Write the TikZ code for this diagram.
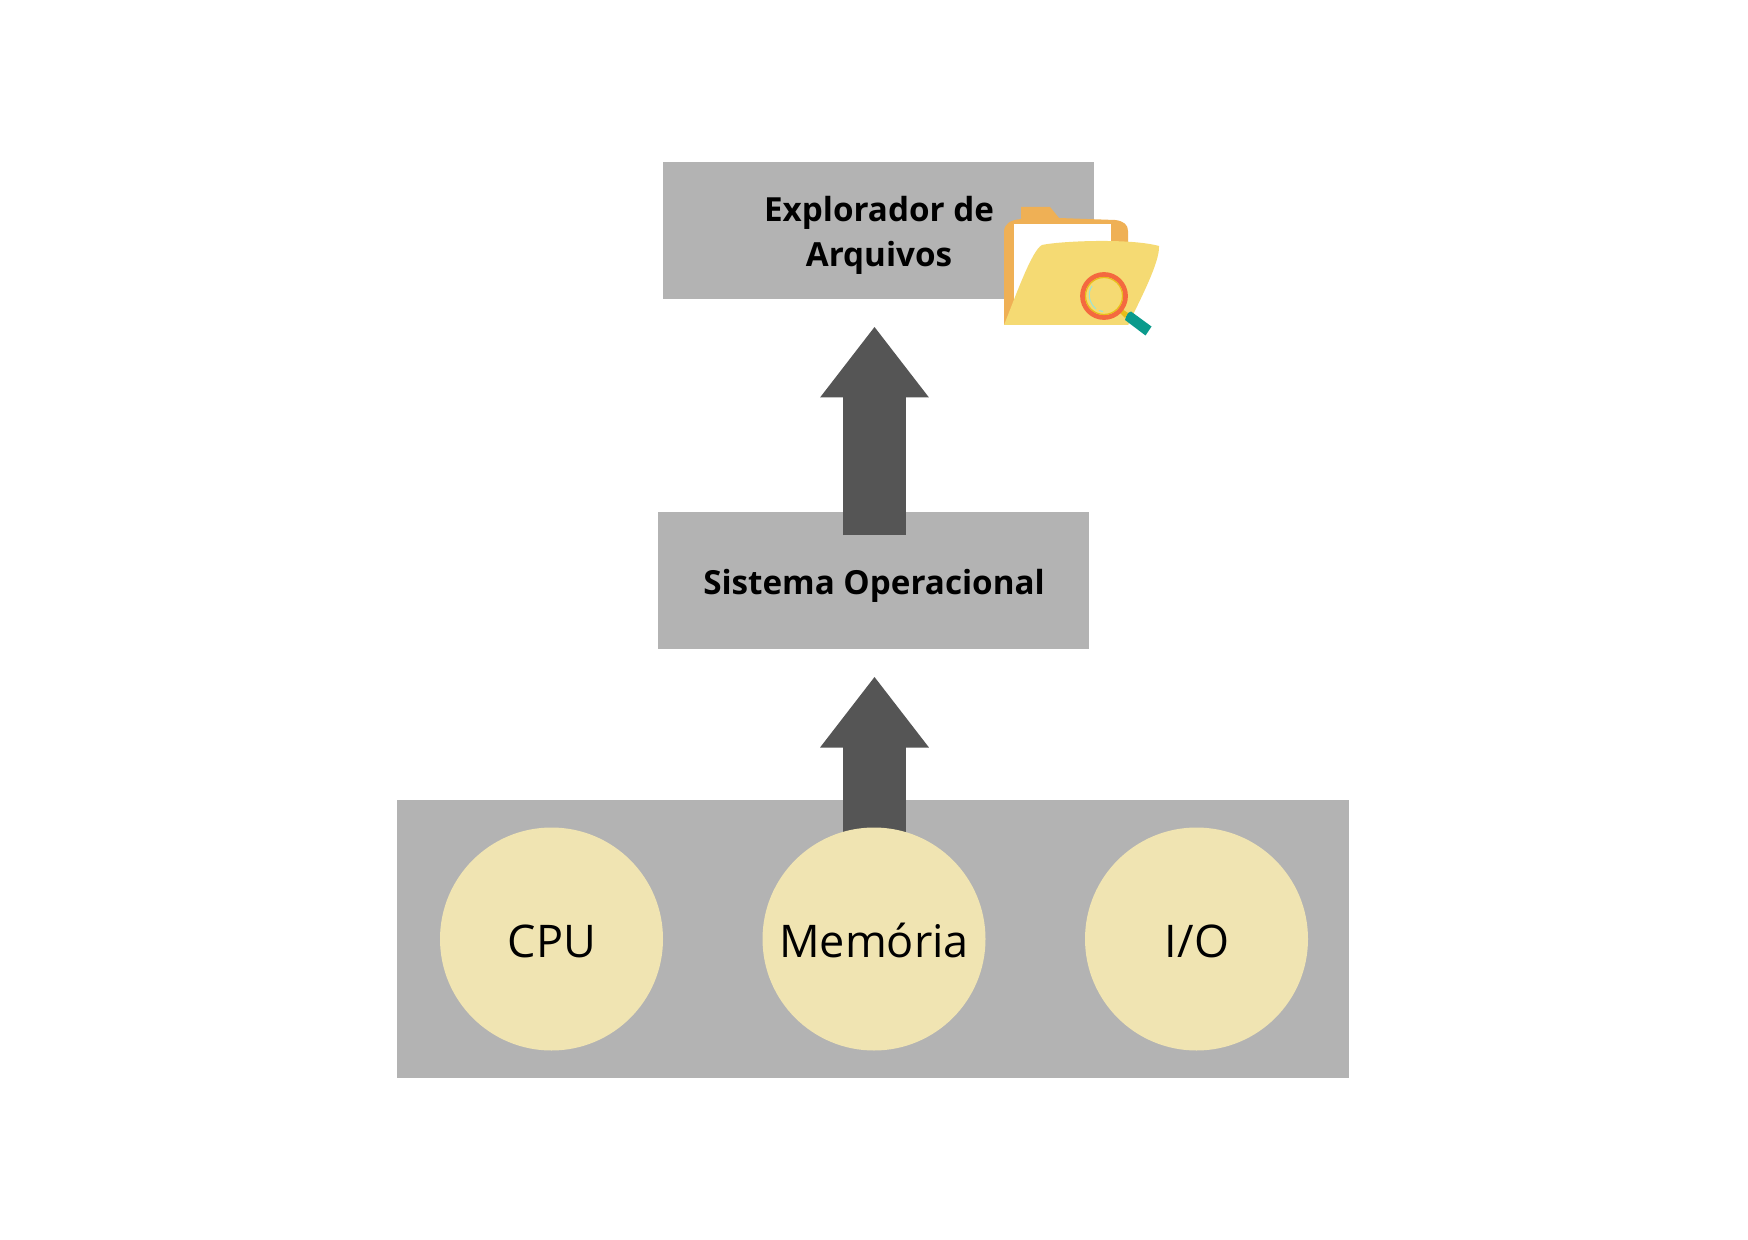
\documentclass[tikz,border=0pt]{standalone}
\usepackage{fontspec}
\usepackage{tikz}
\usetikzlibrary{arrows.meta}
\setmainfont{Open Sans}
\definecolor{boxgray}{HTML}{B3B3B3}
\definecolor{arrowgray}{HTML}{555555}
\definecolor{circlecream}{HTML}{F0E4B2}
\definecolor{folderback}{HTML}{EFB055}
\definecolor{folderfront}{HTML}{F5DA73}
\definecolor{lensring}{HTML}{F4693F}
\definecolor{lensinner}{HTML}{E8BE1A}
\definecolor{lensglint}{HTML}{9BE3D6}
\definecolor{handleteal}{HTML}{0A9A8C}

\begin{document}
\begin{tikzpicture}[x=0.5pt,y=-0.5pt]
	 \tikzstyle{layer}=[rectangle,fill=boxgray,inner sep=0pt,minimum width=215.5pt,minimum height=68.5pt]
	 \tikzstyle{hardware}=[rectangle,fill=boxgray,inner sep=0pt,minimum width=476pt,minimum height=139pt]
	 \tikzstyle{part}=[circle,fill=circlecream,inner sep=0pt,minimum size=111.5pt]
	 \tikzstyle{bigarrow}=[draw=arrowgray,line width=31.5pt,-{Triangle[length=35.5pt,width=52pt]}]
	 \tikzstyle{layertext}=[inner sep=0pt,align=center,font=\fontsize{16.6}{22.5}\selectfont\bfseries]
	 \tikzstyle{parttext}=[inner sep=0pt,font=\fontsize{22.5}{27}\selectfont]
	 \useasboundingbox (0,0) rectangle (1748,1240);
	 \node[layer] (explorer) at (878.5,231) {};
	 \node[layer] (system) at (873.5,580.5) {};
	 \node[layertext] (explorertext) at (879,235.5) {Explorador de\\Arquivos};
	 \node[layertext] (systemtext) at (874,586) {Sistema Operacional};
	 \node[hardware] (board) at (873,939) {};
	 \coordinate (a1start) at (874.5,835);
	 \coordinate (a1tip) at (874.5,676.5);
	 \coordinate (a2start) at (874.5,535);
	 \coordinate (a2tip) at (874.5,326.5);
	 \draw[bigarrow] (a1start) -- (a1tip);
	 \draw[bigarrow] (a2start) -- (a2tip);
	 \node[part] (cpu) at (551.5,939) {};
	 \node[part] (mem) at (874,939) {};
	 \node[part] (io) at (1196.5,939) {};
	 \node[parttext] (cputext) at (552,941) {CPU};
	 \node[parttext] (memtext) at (874,940) {Memória};
	 \node[parttext] (iotext) at (1197,941) {I/O};
	 \fill[folderback] (1004,325) -- (1004,232) .. controls (1004,224) and (1010,220) .. (1021,219) -- (1021,207) -- (1050,207) -- (1059,218) -- (1115,220) .. controls (1124,221) and (1128,225) .. (1128,231) -- (1128,325) -- cycle;
	 \fill[white] (1014,224) rectangle (1111,300);
	 \fill[folderfront] (1004,325) .. controls (1016,295) and (1032,250) .. (1042,245) .. controls (1060,241) and (1130,238) .. (1159,246) .. controls (1160,262) and (1140,300) .. (1128,325) -- cycle;
	 \fill[handleteal] (1127,313.5) -- (1131,311.5) -- (1151.5,326.5) -- (1145.5,335.5) -- (1125,320) -- cycle;
	 \fill[lensinner] (1122,309) -- (1128,313) -- (1125,318) -- (1120,313) -- cycle;
	 \draw[lensring,line width=2.4pt] (1104,296) circle (21.5);
	 \draw[lensinner,line width=0.6pt] (1104,296) circle (18.5);
	 \draw[lensglint,line width=0.5pt] (1092,286) .. controls (1087,293) and (1089,303) .. (1096,309);
	 \draw[lensglint,line width=0.5pt] (1099,310.5) -- (1103,311.5);
 \end{tikzpicture}
\end{document}
